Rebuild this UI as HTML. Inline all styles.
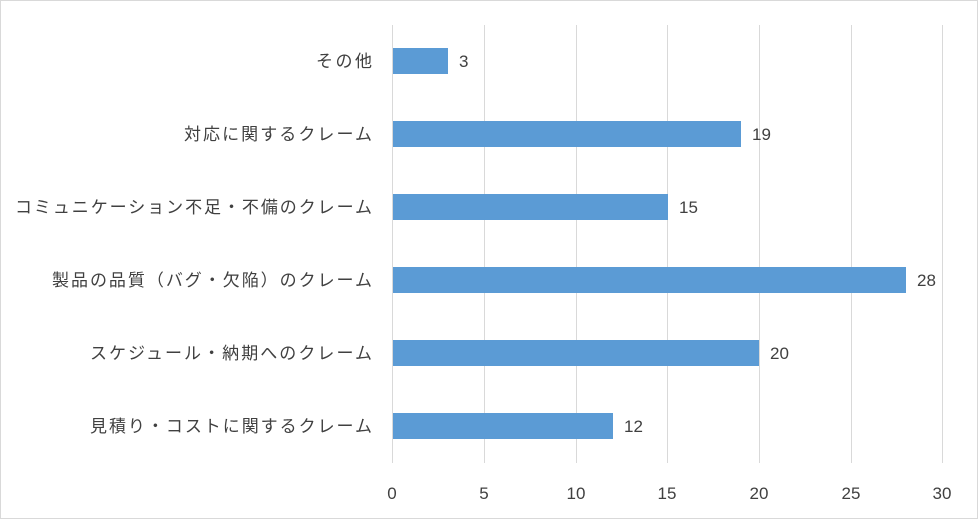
<!DOCTYPE html>
<html><head><meta charset="utf-8"><style>
body{margin:0;background:#fff}
svg text{font-family:"Liberation Sans","Noto Sans CJK JP",sans-serif;fill:#404040;font-size:17px}
</style></head><body>
<svg width="978" height="519" xmlns="http://www.w3.org/2000/svg">
<rect x="0.5" y="0.5" width="977" height="518" fill="#fff" stroke="#d9d9d9"/>
<g stroke="#d9d9d9" stroke-width="1">
<line x1="392.5" y1="25" x2="392.5" y2="463"/>
<line x1="484.5" y1="25" x2="484.5" y2="463"/>
<line x1="576.5" y1="25" x2="576.5" y2="463"/>
<line x1="667.5" y1="25" x2="667.5" y2="463"/>
<line x1="759.5" y1="25" x2="759.5" y2="463"/>
<line x1="851.5" y1="25" x2="851.5" y2="463"/>
<line x1="942.5" y1="25" x2="942.5" y2="463"/>
</g>
<g fill="#5b9bd5">
<rect x="393" y="48" width="55" height="26"/>
<rect x="393" y="121" width="348" height="26"/>
<rect x="393" y="194" width="275" height="26"/>
<rect x="393" y="267" width="513" height="26"/>
<rect x="393" y="340" width="366" height="26"/>
<rect x="393" y="413" width="220" height="26"/>
</g>
<g>
<text x="459" y="67">3</text>
<text x="752" y="140">19</text>
<text x="679" y="213">15</text>
<text x="917" y="286">28</text>
<text x="770" y="359">20</text>
<text x="624" y="432">12</text>
</g>
<g>
<text x="316" y="67" textLength="56" lengthAdjust="spacing">その他</text>
<text x="184" y="140" textLength="188" lengthAdjust="spacing">対応に関するクレーム</text>
<text x="15" y="213" textLength="357" lengthAdjust="spacing">コミュニケーション不足・不備のクレーム</text>
<text x="52" y="286" textLength="320" lengthAdjust="spacing">製品の品質（バグ・欠陥）のクレーム</text>
<text x="90" y="359" textLength="282" lengthAdjust="spacing">スケジュール・納期へのクレーム</text>
<text x="90" y="432" textLength="282" lengthAdjust="spacing">見積り・コストに関するクレーム</text>
</g>
<g text-anchor="middle">
<text x="392" y="499">0</text>
<text x="484" y="499">5</text>
<text x="576" y="499">10</text>
<text x="667" y="499">15</text>
<text x="759" y="499">20</text>
<text x="851" y="499">25</text>
<text x="942" y="499">30</text>
</g>
</svg>
</body></html>
